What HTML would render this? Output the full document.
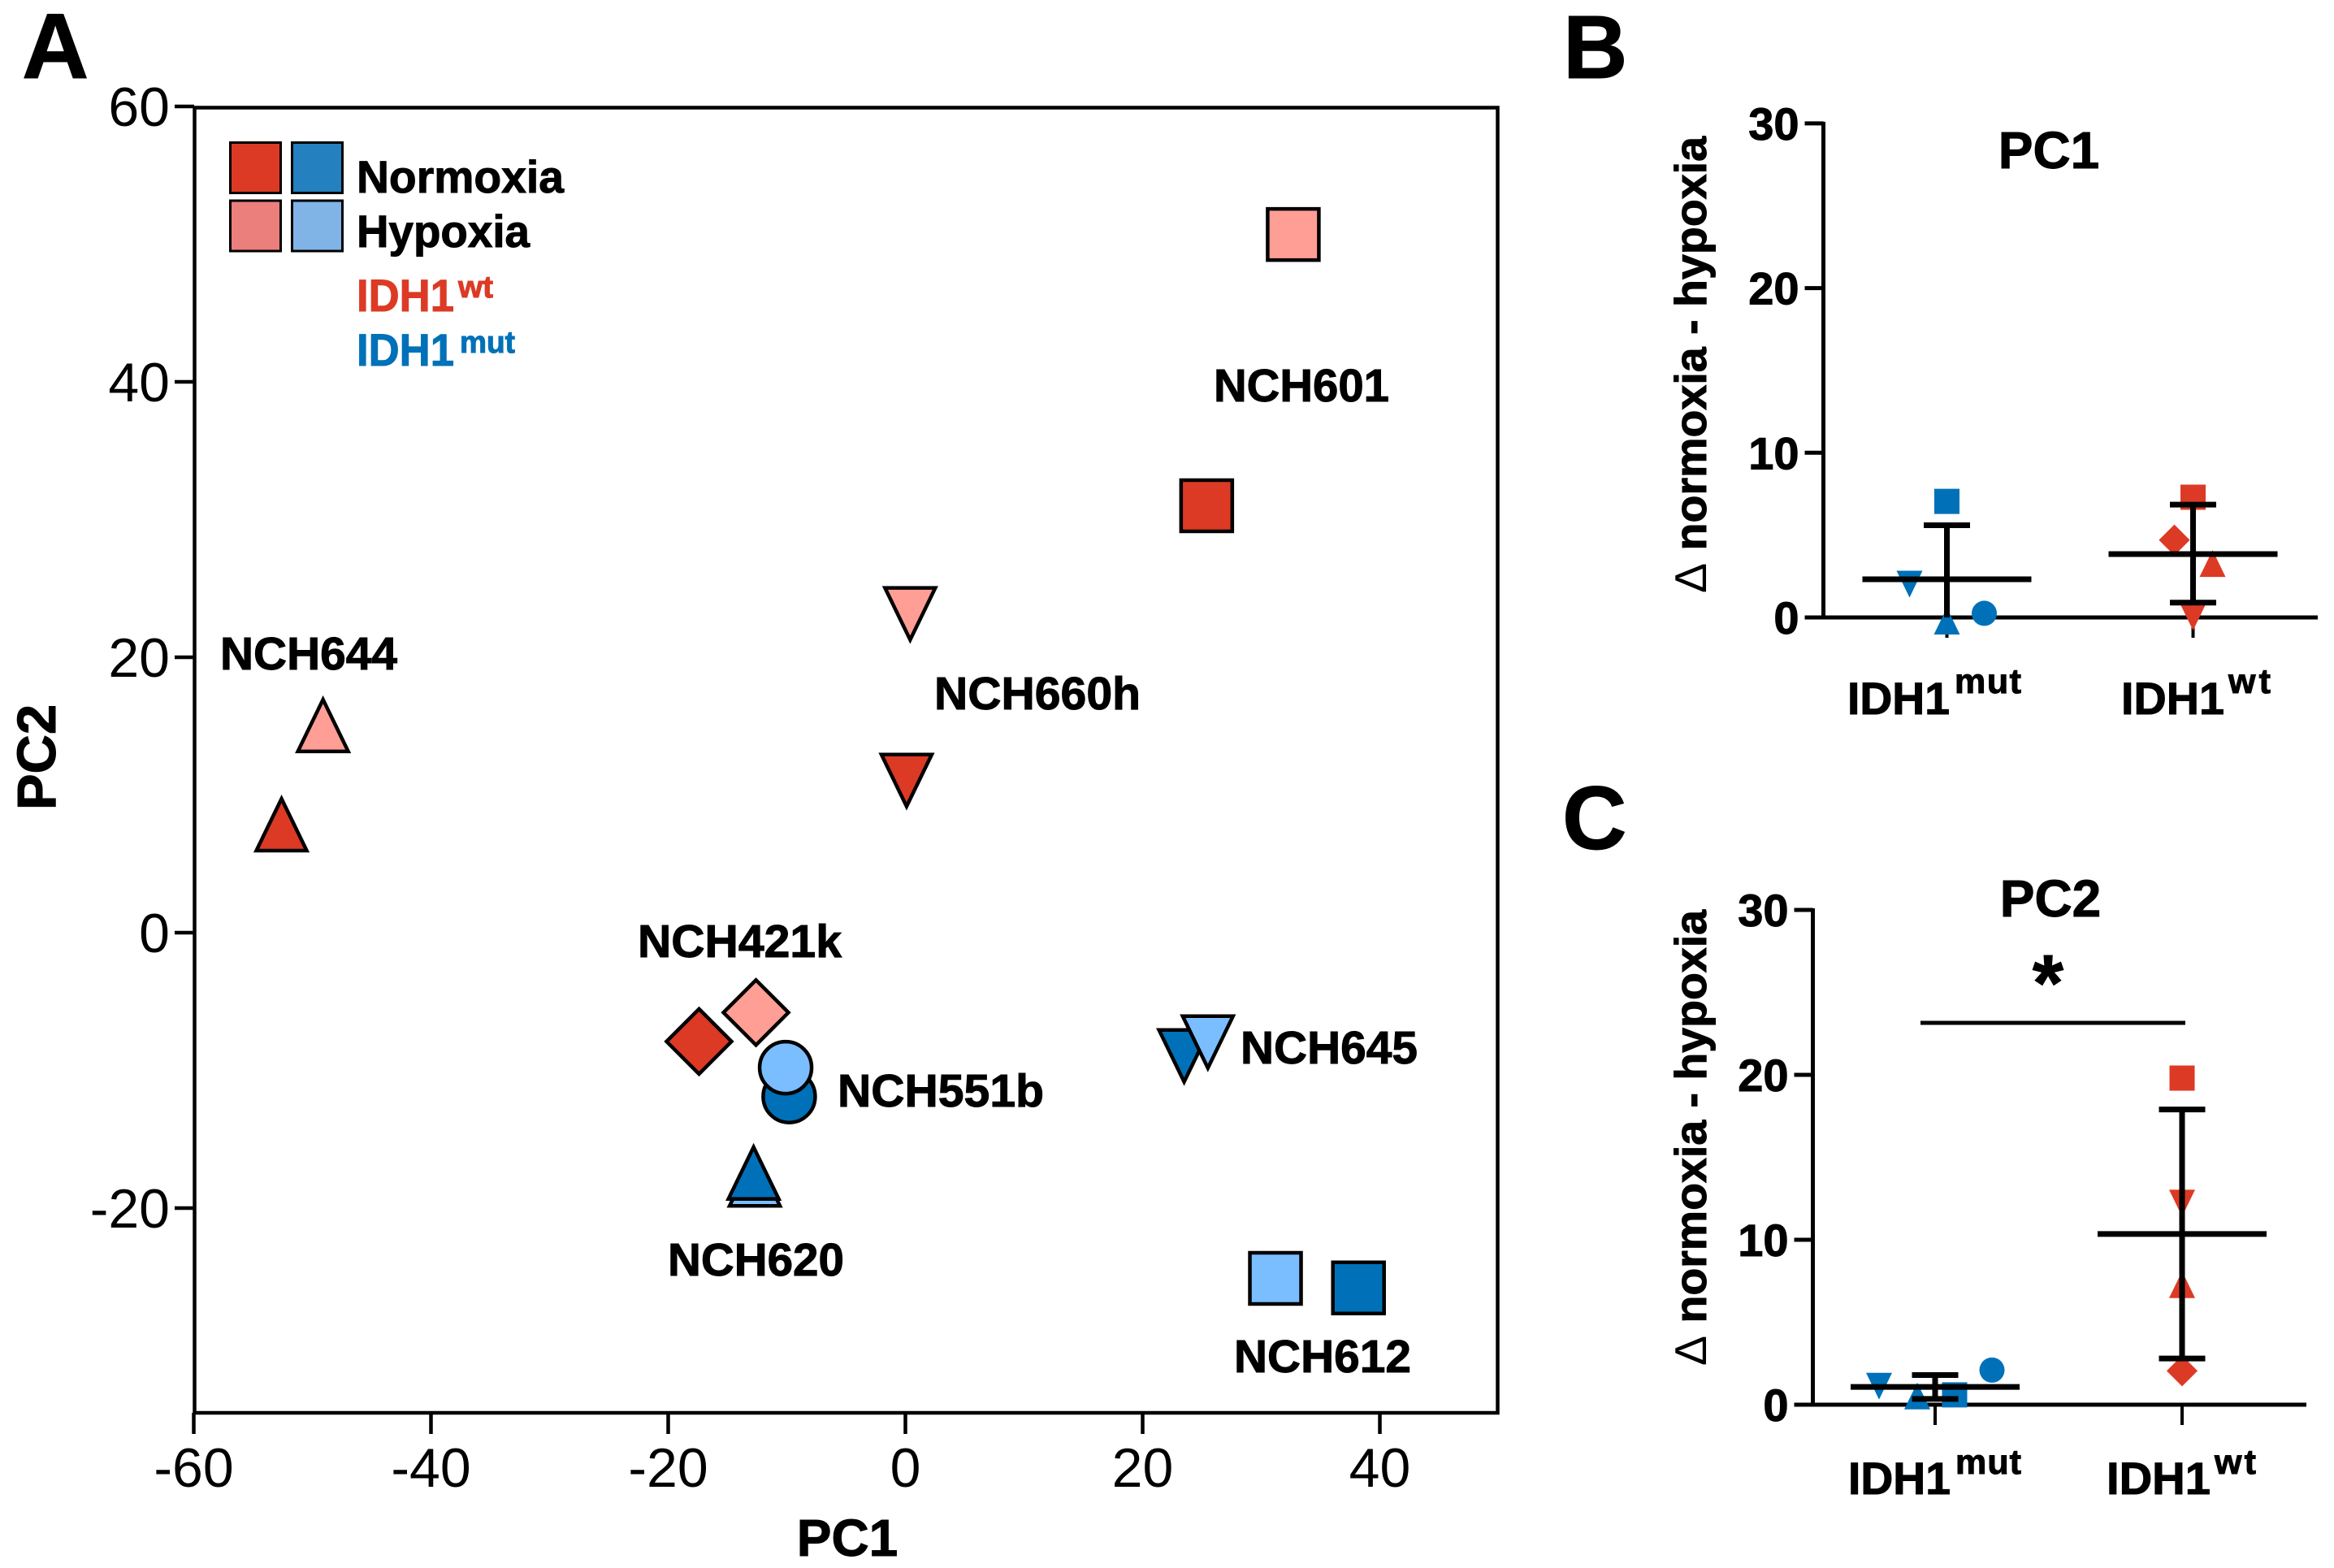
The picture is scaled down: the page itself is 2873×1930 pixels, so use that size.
<!DOCTYPE html>
<html lang="en">
<head>
<meta charset="utf-8">
<title>PCA of glioma samples under normoxia and hypoxia</title>
<style>
html,body{margin:0;padding:0;background:#fff;}
svg{display:block;}
text{font-family:"Liberation Sans",Arial,sans-serif;fill:#000;}
.b{font-weight:700;stroke:#000;stroke-width:1px;}
.lab{font-weight:700;font-size:57px;stroke:#000;stroke-width:1px;}
.wt{fill:#DC3A25;stroke:#DC3A25;}
.mut{fill:#0071B8;stroke:#0071B8;}
</style>
</head>
<body>
<svg id="fig" xmlns="http://www.w3.org/2000/svg" width="2873" height="1930" viewBox="0 0 2873 1930">
  <rect x="0" y="0" width="2873" height="1930" fill="#fff"/>

  <text class="b" x="27" y="96" font-size="114">A</text>
  <text class="b" x="1924" y="96" font-size="110">B</text>
  <text class="b" x="1923" y="1045" font-size="110">C</text>

  <rect x="239.5" y="132.5" width="1604" height="1606.5" fill="none" stroke="#000" stroke-width="4.5"/>

  <rect x="283.5" y="175.5" width="62" height="62" fill="#DC3A25" stroke="#000" stroke-width="3"/>
  <rect x="359.5" y="175.5" width="62" height="62" fill="#2480BF" stroke="#000" stroke-width="3"/>
  <rect x="283.5" y="247" width="62" height="62" fill="#EA7F7B" stroke="#000" stroke-width="3"/>
  <rect x="359.5" y="247" width="62" height="62" fill="#80B4E6" stroke="#000" stroke-width="3"/>
  <text class="b" x="439" y="237" font-size="56" textLength="255" lengthAdjust="spacingAndGlyphs">Normoxia</text>
  <text class="b" x="439" y="304" font-size="56" textLength="213" lengthAdjust="spacingAndGlyphs">Hypoxia</text>
  <text class="b wt" x="439" y="383" font-size="56" textLength="120" lengthAdjust="spacingAndGlyphs">IDH1</text>
  <text class="b wt" x="564" y="366" font-size="38" textLength="43" lengthAdjust="spacingAndGlyphs">wt</text>
  <text class="b mut" x="439" y="450" font-size="56" textLength="120" lengthAdjust="spacingAndGlyphs">IDH1</text>
  <text class="b mut" x="566" y="434" font-size="38" textLength="68" lengthAdjust="spacingAndGlyphs">mut</text>

  <g id="pca-ticks"></g>
  <g id="pca-marks"></g>

  <text class="lab" x="1494" y="494" textLength="216" lengthAdjust="spacingAndGlyphs">NCH601</text>
  <text class="lab" x="1150" y="873" textLength="254" lengthAdjust="spacingAndGlyphs">NCH660h</text>
  <text class="lab" x="271" y="824" textLength="218" lengthAdjust="spacingAndGlyphs">NCH644</text>
  <text class="lab" x="785" y="1178" textLength="251" lengthAdjust="spacingAndGlyphs">NCH421k</text>
  <text class="lab" x="1031" y="1362" textLength="254" lengthAdjust="spacingAndGlyphs">NCH551b</text>
  <text class="lab" x="1527" y="1309" textLength="218" lengthAdjust="spacingAndGlyphs">NCH645</text>
  <text class="lab" x="822" y="1570" textLength="217" lengthAdjust="spacingAndGlyphs">NCH620</text>
  <text class="lab" x="1519" y="1689" textLength="218" lengthAdjust="spacingAndGlyphs">NCH612</text>

  <text class="b" x="1043" y="1915" font-size="64" text-anchor="middle">PC1</text>
  <text class="b" transform="translate(68,932) rotate(-90)" font-size="67" text-anchor="middle">PC2</text>

  <text class="b" x="2522" y="207" font-size="64" text-anchor="middle">PC1</text>
  <text class="b" x="2524" y="1128" font-size="64" text-anchor="middle">PC2</text>

  <text class="b" transform="translate(2100,730) rotate(-90)" font-size="55" textLength="562" lengthAdjust="spacingAndGlyphs"><tspan font-weight="400" stroke-width="0">Δ</tspan> normoxia - hypoxia</text>
  <text class="b" transform="translate(2100,1681) rotate(-90)" font-size="55" textLength="561" lengthAdjust="spacingAndGlyphs"><tspan font-weight="400" stroke-width="0">Δ</tspan> normoxia - hypoxia</text>

  <g id="panel-b"></g>
  <g id="panel-c"></g>

  <text class="b" x="2274" y="879" font-size="56" textLength="126" lengthAdjust="spacingAndGlyphs">IDH1</text>
  <text class="b" x="2406" y="853" font-size="43" textLength="82" lengthAdjust="spacing">mut</text>
  <text class="b" x="2611" y="879" font-size="56" textLength="127" lengthAdjust="spacingAndGlyphs">IDH1</text>
  <text class="b" x="2743" y="853" font-size="43" textLength="52" lengthAdjust="spacing">wt</text>
  <text class="b" x="2275" y="1839" font-size="56" textLength="126" lengthAdjust="spacingAndGlyphs">IDH1</text>
  <text class="b" x="2407" y="1814" font-size="43" textLength="81" lengthAdjust="spacing">mut</text>
  <text class="b" x="2593" y="1839" font-size="56" textLength="128" lengthAdjust="spacingAndGlyphs">IDH1</text>
  <text class="b" x="2726" y="1814" font-size="43" textLength="51" lengthAdjust="spacing">wt</text>

  <line x1="2364" y1="1259" x2="2690" y2="1259" stroke="#000" stroke-width="5"/>
  <text class="b" x="2521" y="1244" font-size="98" text-anchor="middle">*</text>
</svg>

<script>
// Panel A data
const pcaSamples = ['NCH601', 'NCH660h', 'NCH644', 'NCH421k', 'NCH551b', 'NCH620', 'NCH645', 'NCH612'];
const pcaShapes = ['square', 'down', 'up', 'diamond', 'circle', 'up', 'down', 'square'];
const pcaGroups = ['wt', 'wt', 'wt', 'wt', 'mut', 'mut', 'mut', 'mut'];
const pc1Normoxia = [25.4, 0.1, -52.6, -17.4, -9.8, -12.8, 23.5, 38.2];
const pc2Normoxia = [31.0, 11.0, 7.9, -7.9, -11.9, -17.4, -9.0, -25.8];
const pc1Hypoxia = [32.7, 0.4, -49.1, -12.6, -10.1, -12.7, 25.5, 31.2];
const pc2Hypoxia = [50.7, 23.1, 15.1, -5.8, -9.8, -17.9, -8.0, -25.1];
const pcaXTicks = [-60, -40, -20, 0, 20, 40];
const pcaYTicks = [60, 40, 20, 0, -20];

// Panels B and C data
const deltaTicks = [0, 10, 20, 30];
const deltaShapes = ['square', 'down', 'up', 'circle', 'diamond'];
const pc1MutShapes = ['square', 'down', 'up', 'circle'];
const pc1MutValues = [7.05, 2.0, -0.2, 0.25];
const pc1WtShapes = ['square', 'diamond', 'up', 'down'];
const pc1WtValues = [7.3, 4.7, 3.3, 0.0];
const pc1MutSummary = [2.32, 5.6, 0];
const pc1WtSummary = [3.85, 6.85, 0.9];
const pc2MutShapes = ['down', 'up', 'square', 'circle'];
const pc2MutValues = [1.1, 0.55, 0.6, 2.1];
const pc2WtShapes = ['square', 'down', 'up', 'diamond'];
const pc2WtValues = [19.8, 12.2, 7.3, 2.05];
const pc2MutSummary = [1.08, 1.8, 0.35];
const pc2WtSummary = [10.35, 17.9, 2.8];

const NS = 'http://www.w3.org/2000/svg';
const palette = {
  wt: { normoxia: '#DC3A25', hypoxia: '#FF9E95' },
  mut: { normoxia: '#0071B8', hypoxia: '#7ABEFF' }
};
const pcaX = v => 1114.5 + 14.6 * v;
const pcaY = v => 1148 - 16.95 * v;

function make(parent, tag, attrs) {
  const el = document.createElementNS(NS, tag);
  for (const k in attrs) el.setAttribute(k, attrs[k]);
  parent.appendChild(el);
  return el;
}

function markerPath(shape, cx, cy, s) {
  if (shape === 'square') return `M${cx - s} ${cy - s}H${cx + s}V${cy + s}H${cx - s}Z`;
  if (shape === 'diamond') {
    const d = s * 1.27;
    return `M${cx} ${cy - d}L${cx + d} ${cy}L${cx} ${cy + d}L${cx - d} ${cy}Z`;
  }
  if (shape === 'up') return `M${cx} ${cy - s}L${cx + s} ${cy + s * 1.06}H${cx - s}Z`;
  if (shape === 'down') return `M${cx} ${cy + s}L${cx + s} ${cy - s * 1.06}H${cx - s}Z`;
  return '';
}

function drawMarker(parent, shape, cx, cy, s, fill, stroke, name) {
  let el;
  if (shape === 'circle') {
    el = make(parent, 'circle', { cx: cx, cy: cy, r: s });
  } else {
    el = make(parent, 'path', { d: markerPath(shape, cx, cy, s) });
  }
  el.setAttribute('fill', fill);
  el.setAttribute('stroke', stroke);
  el.setAttribute('stroke-width', stroke === 'none' ? 0 : 4.5);
  el.setAttribute('stroke-miterlimit', 6);
  
  
}

function drawLine(parent, x1, y1, x2, y2, w, name) {
  const el = make(parent, 'line', { x1: x1, y1: y1, x2: x2, y2: y2, stroke: '#000', 'stroke-width': w });
  
  
  return el;
}

function drawText(parent, x, y, size, anchor, bold, content, name) {
  const el = make(parent, 'text', { x: x, y: y, 'font-size': size, 'text-anchor': anchor });
  if (bold) el.setAttribute('class', 'b');
  el.textContent = content;
  
  
}

// Panel A ticks
const pcaTickLayer = document.getElementById('pca-ticks');
pcaXTicks.forEach(t => {
  drawLine(pcaTickLayer, pcaX(t), 1739, pcaX(t), 1765, 4.5, 'x-tick-' + t);
  drawText(pcaTickLayer, pcaX(t), 1830, 68, 'middle', false, String(t), 'x-tick-label-' + t);
});
pcaYTicks.forEach(t => {
  drawLine(pcaTickLayer, 215, pcaY(t), 239, pcaY(t), 4.5, 'y-tick-' + t);
  drawText(pcaTickLayer, 209, pcaY(t) + 24, 68, 'end', false, String(t), 'y-tick-label-' + t);
});

// Panel A points
const pcaLayer = document.getElementById('pca-marks');
function drawPcaPoint(i, condition) {
  const xs = condition === 'normoxia' ? pc1Normoxia : pc1Hypoxia;
  const ys = condition === 'normoxia' ? pc2Normoxia : pc2Hypoxia;
  const shape = pcaShapes[i];
  const size = shape === 'square' ? 31.5 : shape === 'circle' ? 32 : shape === 'diamond' ? 31.5 : 31;
  drawMarker(pcaLayer, shape, pcaX(xs[i]), pcaY(ys[i]), size, palette[pcaGroups[i]][condition], '#000',
    'point-' + pcaSamples[i].toLowerCase() + '-' + condition);
}
pcaSamples.forEach((s, i) => {
  const hypoxiaBelow = s === 'NCH620';
  if (hypoxiaBelow) drawPcaPoint(i, 'hypoxia');
  drawPcaPoint(i, 'normoxia');
  if (!hypoxiaBelow) drawPcaPoint(i, 'hypoxia');
});

// Panels B and C
function drawDeltaPanel(layerId, cfg) {
  const layer = document.getElementById(layerId);
  const y = v => cfg.zero - cfg.unit * v;
  drawLine(layer, cfg.axisX, y(30) - 2, cfg.axisX, y(0) + 2, 5, cfg.prefix + '-y-axis');
  drawLine(layer, cfg.axisX - 23, y(0), cfg.right, y(0), 5, cfg.prefix + '-x-axis');
  deltaTicks.forEach(t => {
    if (t > 0) drawLine(layer, cfg.axisX - 23, y(t), cfg.axisX, y(t), 5, cfg.prefix + '-y-tick-' + t);
    drawText(layer, cfg.axisX - 30, y(t) + 20, 56, 'end', true, String(t), cfg.prefix + '-y-tick-label-' + t);
  });
  cfg.groups.forEach(g => {
    drawLine(layer, g.x, y(0), g.x, y(0) + 25, 4, cfg.prefix + '-' + g.key + '-x-tick');
    const color = g.key === 'wt' ? '#DC3A25' : '#0071B8';
    g.shapes.forEach((shape, i) => {
      const dx = g.offsets[shape];
      const s = shape === 'circle' ? 15.5 : shape === 'square' ? 15.5 : shape === 'diamond' ? 15 : 16;
      drawMarker(layer, shape, g.x + dx, y(g.values[i]), s, color, 'none',
        cfg.prefix + '-' + g.key + '-point-' + shape);
    });
    const mean = g.summary[0], hi = g.summary[1], lo = g.summary[2];
    drawLine(layer, g.x, y(hi), g.x, y(lo), 7, cfg.prefix + '-' + g.key + '-error-bar');
    drawLine(layer, g.x - 28.5, y(hi), g.x + 28.5, y(hi), 7, cfg.prefix + '-' + g.key + '-error-cap-top');
    if (lo > 0) drawLine(layer, g.x - 28.5, y(lo), g.x + 28.5, y(lo), 7, cfg.prefix + '-' + g.key + '-error-cap-bottom');
    drawLine(layer, g.x - 104, y(mean), g.x + 104, y(mean), 7, cfg.prefix + '-' + g.key + '-mean-line');
  });
}

drawDeltaPanel('panel-b', {
  prefix: 'panel-b', axisX: 2244.5, right: 2853, zero: 760, unit: 20.27,
  groups: [
    { key: 'mut', x: 2396.5, shapes: pc1MutShapes, values: pc1MutValues, summary: pc1MutSummary,
      offsets: { square: 0, down: -46, up: 0, circle: 46 } },
    { key: 'wt', x: 2699.5, shapes: pc1WtShapes, values: pc1WtValues, summary: pc1WtSummary,
      offsets: { square: 0, diamond: -23, up: 24, down: 0 } }
  ]
});
drawDeltaPanel('panel-c', {
  prefix: 'panel-c', axisX: 2231.5, right: 2839, zero: 1729, unit: 20.3,
  groups: [
    { key: 'mut', x: 2382, shapes: pc2MutShapes, values: pc2MutValues, summary: pc2MutSummary,
      offsets: { down: -69, up: -22, square: 24, circle: 70 } },
    { key: 'wt', x: 2686, shapes: pc2WtShapes, values: pc2WtValues, summary: pc2WtSummary,
      offsets: { square: 0, down: 0, up: 0, diamond: 0 } }
  ]
});
</script>
</body>
</html>
